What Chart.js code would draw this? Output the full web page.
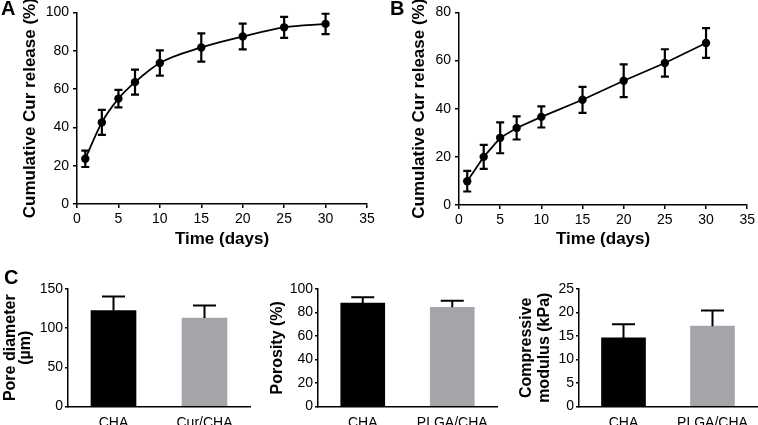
<!DOCTYPE html>
<html>
<head>
<meta charset="utf-8">
<title>Cur release and scaffold properties</title>
<script src="https://cdn.jsdelivr.net/npm/chart.js@4.4.0/dist/chart.umd.min.js"></script>
<style>
  html, body { margin: 0; padding: 0; background: #fff; overflow: hidden; }
  #fig { position: relative; width: 758px; height: 425px; overflow: hidden; font-family: "Liberation Sans", Arial, sans-serif; }
  #fig canvas { position: absolute; }
  .tag { position: absolute; font-weight: bold; font-size: 20px; line-height: 1; color: #000; }
</style>
</head>
<body>
<div id="fig">
  <canvas id="chartA" width="380" height="250" style="left:0;top:0"></canvas>
  <canvas id="chartB" width="378" height="250" style="left:380px;top:0"></canvas>
  <canvas id="chartPore" width="253" height="185" style="left:0;top:240px"></canvas>
  <canvas id="chartPorosity" width="252" height="185" style="left:250px;top:240px"></canvas>
  <canvas id="chartModulus" width="258" height="185" style="left:500px;top:240px"></canvas>
  <div class="tag" style="left:1px;top:-2px">A</div>
  <div class="tag" style="left:390px;top:-2px">B</div>
  <div class="tag" style="left:4px;top:267px">C</div>
</div>
<script>
"use strict";

/* ---------- data ---------- */
const days = [1, 3, 5, 7, 10, 15, 20, 25, 30];
const releaseA = [23.6, 42.6, 55.0, 63.6, 73.6, 81.7, 87.4, 92.2, 94.0];
const releaseErrA = [4.3, 6.5, 4.6, 6.5, 6.6, 7.4, 6.7, 5.5, 5.3];
const releaseB = [9.9, 20.0, 27.9, 32.0, 36.6, 43.7, 51.6, 59.0, 67.3];
const releaseErrB = [4.3, 5.0, 6.4, 4.8, 4.4, 5.4, 6.8, 5.7, 6.2];

const poreGroups = ["CHA", "Cur/CHA"];
const poreDiameter = [122.5, 113.0];
const poreErr = [18.0, 16.0];

const plgaGroups = ["CHA", "PLGA/CHA"];
const porosity = [88.0, 84.4];
const porosityErr = [5.0, 5.6];
const modulus = [14.6, 17.1];
const modulusErr = [2.9, 3.3];

/* ---------- shared styling ---------- */
const BLACK = "#000000";
const GREY = "#a5a5a9";
const tickFont = { family: "Liberation Sans", size: 14 };
const titleFont = { family: "Liberation Sans", size: 17, weight: "bold", lineHeight: 1.25 };

Chart.defaults.animation = false;
Chart.defaults.responsive = false;
Chart.defaults.devicePixelRatio = 1;
Chart.defaults.color = BLACK;
Chart.defaults.plugins.legend.display = false;
Chart.defaults.plugins.tooltip.enabled = false;

// error bars drawn from each dataset's "errors" array
const errorBars = {
  id: "errorBars",
  afterDatasetsDraw(chart, args, opts) {
    const ctx = chart.ctx;
    const yScale = chart.scales.y;
    chart.data.datasets.forEach((ds, i) => {
      if (!ds.errors) return;
      const meta = chart.getDatasetMeta(i);
      ctx.save();
      ctx.strokeStyle = BLACK;
      ctx.lineWidth = opts.lineWidth || 2;
      meta.data.forEach((el, j) => {
        const d = ds.data[j];
        const v = typeof d === "object" ? d.y : d;
        const err = ds.errors[j];
        const top = yScale.getPixelForValue(v + err);
        const bottom = opts.upOnly ? yScale.getPixelForValue(v) : yScale.getPixelForValue(v - err);
        const half = opts.cap / 2;
        ctx.beginPath();
        ctx.moveTo(el.x, top);
        ctx.lineTo(el.x, bottom);
        ctx.moveTo(el.x - half, top);
        ctx.lineTo(el.x + half, top);
        if (!opts.upOnly) {
          ctx.moveTo(el.x - half, bottom);
          ctx.lineTo(el.x + half, bottom);
        }
        ctx.stroke();
      });
      ctx.restore();
    });
  }
};

function axisLines(drawTicks) {
  return {
    grid: { drawOnChartArea: false, drawTicks: drawTicks, tickLength: 4, color: BLACK, lineWidth: 1.5 },
    border: { color: BLACK, width: 1.5 }
  };
}

/* ---------- release curves (A, B) ---------- */
function releaseChart(id, values, errors, yMax, box) {
  const points = days.map((d, k) => ({ x: d, y: values[k] }));
  return new Chart(document.getElementById(id), {
    type: "line",
    data: {
      datasets: [{
        data: points,
        errors: errors,
        borderColor: BLACK,
        borderWidth: 1.8,
        pointRadius: 4.2,
        pointBackgroundColor: BLACK,
        pointBorderWidth: 0,
        cubicInterpolationMode: box.smooth ? "monotone" : "default",
        tension: 0
      }]
    },
    options: {
      layout: { padding: { left: 0, top: box.top, right: box.right, bottom: 0 } },
      scales: {
        x: {
          type: "linear", min: 0, max: 35,
          ticks: { stepSize: 5, font: tickFont, color: BLACK, padding: 3, maxRotation: 0 },
          ...axisLines(true),
          title: { display: true, text: "Time (days)", font: titleFont, color: BLACK, padding: 0 },
          afterFit: s => { s.height = box.xHeight; }
        },
        y: {
          min: 0, max: yMax,
          ticks: { stepSize: 20, font: tickFont, color: BLACK, padding: 4 },
          ...axisLines(true),
          title: { display: true, text: "Cumulative Cur release (%)", font: titleFont, color: BLACK, padding: { top: box.titlePad, bottom: 0 } },
          afterFit: s => { s.width = box.yWidth; }
        }
      },
      plugins: { errorBars: { cap: 8, lineWidth: 2.2, upOnly: false } }
    },
    plugins: [errorBars]
  });
}

releaseChart("chartA", releaseA, releaseErrA, 100,
  { top: 11, right: 13, xHeight: 46, yWidth: 77, titlePad: 20, smooth: true });
releaseChart("chartB", releaseB, releaseErrB, 80,
  { top: 12, right: 8, xHeight: 45, yWidth: 79, titlePad: 29, smooth: false });

/* ---------- scaffold bars (C) ---------- */
function barChart(id, groups, values, errors, yMax, step, title, box) {
  return new Chart(document.getElementById(id), {
    type: "bar",
    data: {
      labels: groups,
      datasets: [{
        data: values,
        errors: errors,
        backgroundColor: [BLACK, GREY],
        borderWidth: 0,
        barThickness: box.barWidth
      }]
    },
    options: {
      layout: { padding: { left: 0, top: 49, right: box.right, bottom: 0 } },
      scales: {
        x: {
          ticks: { font: tickFont, color: BLACK, padding: 8 },
          grid: { drawOnChartArea: false, drawTicks: false },
          border: { color: BLACK, width: 1.5 },
          afterFit: s => { s.height = 18.5; }
        },
        y: {
          min: 0, max: yMax,
          ticks: { stepSize: step, font: tickFont, color: BLACK, padding: 2 },
          grid: { drawOnChartArea: false, drawTicks: true, tickLength: 3, color: BLACK, lineWidth: 1.5 },
          border: { color: BLACK, width: 1.5 },
          title: {
            display: true, text: title, color: BLACK,
            font: { family: "Liberation Sans", size: 16, weight: "bold", lineHeight: box.lineHeight },
            padding: { top: box.titlePad, bottom: 0 }
          },
          afterFit: s => { s.width = box.yWidth; }
        }
      },
      plugins: { errorBars: { cap: 23, lineWidth: 2, upOnly: true } }
    },
    plugins: [errorBars]
  });
}

barChart("chartPore", poreGroups, poreDiameter, poreErr, 150, 50, ["Pore diameter", "(\u00b5m)"],
  { right: 3, yWidth: 68, barWidth: 45, lineHeight: 0.95, titlePad: 3 });
barChart("chartPorosity", plgaGroups, porosity, porosityErr, 100, 20, "Porosity (%)",
  { right: 5, yWidth: 68, barWidth: 44, lineHeight: 1.2, titlePad: 18 });
barChart("chartModulus", plgaGroups, modulus, modulusErr, 25, 5, ["Compressive", "modulus (kPa)"],
  { right: 1, yWidth: 79, barWidth: 44, lineHeight: 1.1, titlePad: 18 });
</script>
</body>
</html>
